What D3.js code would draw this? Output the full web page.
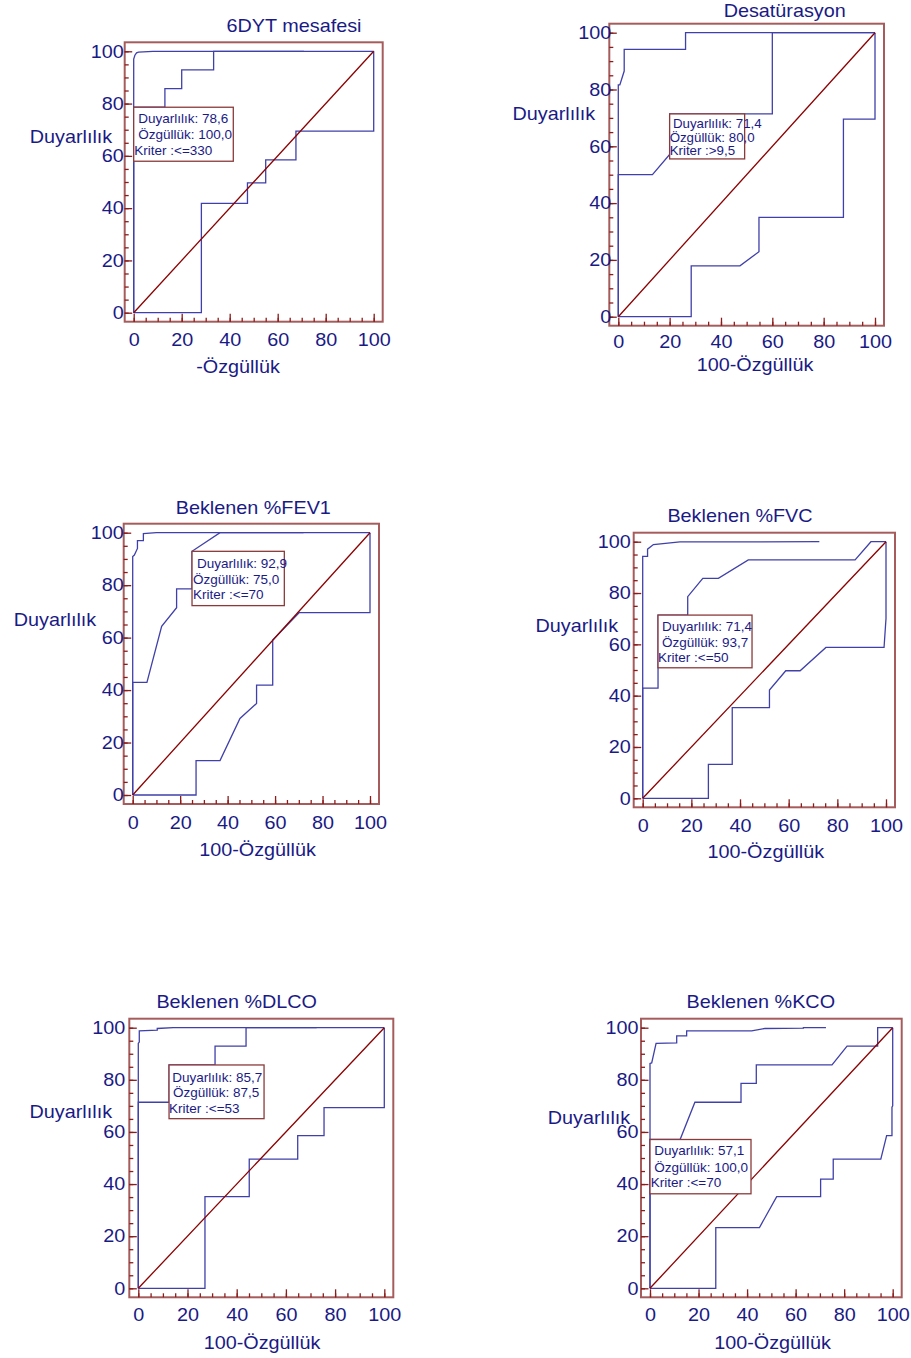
<!DOCTYPE html>
<html>
<head>
<meta charset="utf-8">
<script src="https://cdn.jsdelivr.net/npm/d3@7"></script>
<style>
  body { margin: 0; background: #fff; }
  svg text { font-family: "Liberation Sans", Arial, sans-serif; }
</style>
</head>
<body>
<svg id="chart" width="911" height="1358"></svg>
<script>
const titles = ["6DYT mesafesi", "Desatürasyon", "Beklenen %FEV1", "Beklenen %FVC", "Beklenen %DLCO", "Beklenen %KCO"];
const xTitles = ["-Özgüllük", "100-Özgüllük", "100-Özgüllük", "100-Özgüllük", "100-Özgüllük", "100-Özgüllük"];
const yTitle = "Duyarlılık";
const sensitivity = [78.6, 71.4, 92.9, 71.4, 85.7, 57.1];
const specificity = [100.0, 80.0, 75.0, 93.7, 87.5, 100.0];
const criteria = ["<=330", ">9,5", "<=70", "<=50", "<=53", "<=70"];
const majorTicks = [0, 20, 40, 60, 80, 100];

// [100-Özgüllük, Duyarlılık] pairs: upper band, ROC curve, lower band
const dytUpper = [[0,0],[0,97],[0.5,98.5],[1.2,99.4],[2,99.7],[8,100],[71,100]];
const dytRoc = [[0,0],[0,78.6],[13,78.6],[13,85.7],[20,85.7],[20,92.9],[33.3,92.9],[33.3,100],[100,100]];
const dytLower = [[0,0],[28.2,0],[28.2,41.8],[47.4,41.8],[47.4,49.7],[55,49.7],[55,58.5],[67.6,58.5],[67.6,69.5],[100,69.5],[100,100]];

const desUpper = [[0,0],[0,81.6],[0.6,81.6],[2.3,86.5],[2.3,94.1],[26.2,94.1],[26.2,100],[100,100]];
const desRoc = [[0,0],[0,50],[13.3,50],[20,57.1],[20,71.4],[60,71.4],[60,100],[100,100]];
const desLower = [[0,0],[28.4,0],[28.4,17.9],[47.4,17.9],[54.8,22.9],[54.8,35],[87.7,35],[87.7,69.6],[100,69.6],[100,100]];

const fevUpper = [[0,0],[0,90.9],[0.7,91.5],[2,94],[2,97],[4.5,97],[4.5,99.7],[10,100],[72,100]];
const fevRoc = [[0,0],[0,42.9],[6,42.9],[12.2,64.3],[18.5,71.4],[18.5,78.6],[25,78.6],[25,92.9],[36.8,100],[100,100]];
const fevLower = [[0,0],[26.7,0],[26.7,13.1],[36.8,13.1],[45.2,29.2],[52.2,34.9],[52.2,41.9],[59,41.9],[59,59.1],[70.1,69.5],[100,69.5],[100,100]];

const fvcUpper = [[0,0],[0,94.3],[2,94.3],[2,97.1],[4.4,98.9],[15.3,99.9],[72.6,100]];
const fvcRoc = [[0,0],[0,42.9],[6.3,42.9],[6.3,71.4],[18.5,71.4],[18.5,78.6],[24.7,85.7],[31.1,85.7],[43.4,92.9],[87.3,92.9],[93.8,100],[100,100]];
const fvcLower = [[0,0],[27,0],[27,13.2],[36.8,13.2],[36.8,35.3],[52.1,35.3],[52.1,42.2],[58.8,49.7],[64.7,49.7],[75.3,58.8],[99.2,58.8],[100,70.1],[100,100]];

const dlcoUpper = [[0,0],[0,94],[0.4,94.5],[0.4,98.8],[7.7,99.1],[7.7,99.7],[14.2,100],[72.5,100]];
const dlcoRoc = [[0,0],[0,71.4],[12.5,71.4],[12.5,85.7],[31.2,85.7],[31.2,92.9],[43.8,92.9],[43.8,100],[100,100]];
const dlcoLower = [[0,0],[27.1,0],[27.1,35.2],[45.1,35.2],[45.1,49.6],[64.8,49.6],[64.8,58.6],[75.5,58.6],[75.5,69.3],[100,69.3],[100,100]];

const kcoUpper = [[0,0],[0,86.3],[0.7,86.5],[2.5,94],[11,94.2],[11,96.9],[15.1,96.9],[15.1,98.8],[41.9,98.8],[47.4,99.7],[63.2,99.8],[63.2,100],[72.5,100]];
const kcoRoc = [[0,0],[0,57.1],[12.4,57.1],[18.5,71.4],[37.5,71.4],[37.5,78.6],[43.8,78.6],[43.8,85.7],[75,85.7],[81.2,92.9],[93.8,92.9],[93.8,100],[100,100]];
const kcoLower = [[0,0],[27.1,0],[27.1,23.3],[45.1,23.3],[52.2,35.2],[70.3,35.2],[70.3,41.9],[75.5,41.9],[75.5,49.6],[95.1,49.6],[97.5,58.6],[99.7,58.6],[99.7,69.5],[100,70],[100,100]];

const curves = [
  [dytUpper, dytRoc, dytLower],
  [desUpper, desRoc, desLower],
  [fevUpper, fevRoc, fevLower],
  [fvcUpper, fvcRoc, fvcLower],
  [dlcoUpper, dlcoRoc, dlcoLower],
  [kcoUpper, kcoRoc, kcoLower]
];

// page layout of each panel (pixels)
const panels = [
  { x: [133.7, 373.7], y: [312.7, 51.3], title: [294, 25.5], yT: [71, 137], xT: [238, 367], xLab: 18.5, yLab: 1,
    box: { w: 99.6, h: 54, rows: [16, 31.7, 47.4], indent: [4.6, 4.6, 0.6] } },
  { x: [618.3, 875], y: [316.7, 32.7], title: [784.7, 11], yT: [553.8, 114], xT: [755, 365], xLab: 15.7, yLab: -2,
    box: { w: 75, h: 45, rows: [14.3, 27.7, 41], indent: [3.3, 0, 0] } },
  { x: [132.7, 370], y: [795, 532.7], title: [253.3, 507.5], yT: [55, 620], xT: [257.5, 850], xLab: 19, yLab: 0,
    box: { w: 92.3, h: 54.3, rows: [16.7, 32.7, 47.7], indent: [5, 1, 1] } },
  { x: [642.7, 886], y: [798.3, 541.7], title: [740, 515.8], yT: [576.8, 626], xT: [765.8, 851.7], xLab: 18.3, yLab: 3,
    box: { w: 94, h: 52.7, rows: [16, 32, 47], indent: [4, 4, 0] } },
  { x: [138.3, 384.3], y: [1288.3, 1027.7], title: [236.7, 1002], yT: [70.8, 1111.7], xT: [262, 1343], xLab: 17.7, yLab: 4,
    box: { w: 95, h: 53.7, rows: [16.7, 32, 48], indent: [3.3, 4, 0] } },
  { x: [650, 892.7], y: [1288.3, 1027.7], title: [760.8, 1002], yT: [589, 1118.3], xT: [772.5, 1343], xLab: 17.7, yLab: 2.5,
    box: { w: 101, h: 54.3, rows: [16, 32.3, 47.7], indent: [4.3, 4.3, 0.7] } }
];

const navy = "#1a1a86", blue = "#4040aa", frameCol = "#a65c5c", tickCol = "#8b1c1c", diagCol = "#8b0000";
const pad = 9, stretch = 1.1;
const dec = v => d3.format(".1f")(v).replace(".", ",");

const svg = d3.select("#chart");

// big labels in the picture are a little wider than the font
function wideText(g, x, y, str) {
  g.append("g")
    .attr("transform", `translate(${x},${y}) scale(${stretch},1)`)
    .append("text")
    .attr("text-anchor", "middle")
    .attr("dominant-baseline", "central")
    .attr("font-size", 18)
    .attr("fill", navy)
    .text(str);
}

panels.forEach((p, i) => {
  const x = d3.scaleLinear().domain([0, 100]).range(p.x);
  const y = d3.scaleLinear().domain([0, 100]).range(p.y);
  const g = svg.append("g");
  const fl = p.x[0] - pad, fr = p.x[1] + pad, ft = p.y[1] - pad, fb = p.y[0] + pad;

  // frame
  g.append("rect")
    .attr("x", fl).attr("y", ft)
    .attr("width", fr - fl).attr("height", fb - ft)
    .attr("fill", "none")
    .attr("stroke", frameCol)
    .attr("stroke-width", 2);

  // minor ticks every 5, pointing inward
  const minor = d3.range(0, 101, 5);
  const xMinor = g.append("g").attr("transform", `translate(0,${fb})`)
    .call(d3.axisBottom(x).tickValues(minor).tickSizeInner(-4).tickSizeOuter(0).tickFormat(""));
  const yMinor = g.append("g").attr("transform", `translate(${fl},0)`)
    .call(d3.axisLeft(y).tickValues(minor).tickSizeInner(-4).tickSizeOuter(0).tickFormat(""));

  // major ticks with labels
  const xAxis = g.append("g").attr("transform", `translate(0,${fb})`)
    .call(d3.axisBottom(x).tickValues(majorTicks).tickSizeInner(-8).tickSizeOuter(0).tickPadding(0));
  const yAxis = g.append("g").attr("transform", `translate(${fl},0)`)
    .call(d3.axisLeft(y).tickValues(majorTicks).tickSizeInner(-7.5).tickSizeOuter(0).tickPadding(p.yLab));

  [xMinor, yMinor, xAxis, yAxis].forEach(a => {
    a.select(".domain").remove();
    a.selectAll("line").attr("stroke", tickCol).attr("stroke-width", 1.3);
  });
  xAxis.selectAll("text")
    .attr("y", p.xLab).attr("dy", "0.35em")
    .attr("transform", `scale(${stretch},1)`)
    .attr("font-size", 18).attr("fill", navy)
    .attr("font-family", "Liberation Sans, Arial, sans-serif");
  yAxis.selectAll("text")
    .attr("x", -p.yLab / stretch)
    .attr("transform", `scale(${stretch},1)`)
    .attr("font-size", 18).attr("fill", navy)
    .attr("font-family", "Liberation Sans, Arial, sans-serif");

  // ROC curve and its confidence bands
  const line = d3.line().x(d => x(d[0])).y(d => y(d[1]));
  g.selectAll(".curve")
    .data(curves[i])
    .enter()
    .append("path")
    .attr("class", "curve")
    .attr("d", line)
    .attr("fill", "none")
    .attr("stroke", blue)
    .attr("stroke-width", 1.3);

  // reference diagonal
  g.append("line")
    .attr("x1", x(0)).attr("y1", y(0))
    .attr("x2", x(100)).attr("y2", y(100))
    .attr("stroke", diagCol)
    .attr("stroke-width", 1.3);

  // criterion box at the optimal point
  const bx = x(100 - specificity[i]), by = y(sensitivity[i]);
  g.append("rect")
    .attr("x", bx).attr("y", by)
    .attr("width", p.box.w).attr("height", p.box.h)
    .attr("fill", "#fff")
    .attr("stroke", "#8b3a3a")
    .attr("stroke-width", 1.3);
  const rows = ["Duyarlılık: " + dec(sensitivity[i]), "Özgüllük: " + dec(specificity[i]), "Kriter :" + criteria[i]];
  g.selectAll(".boxText")
    .data(rows)
    .enter()
    .append("text")
    .attr("class", "boxText")
    .attr("x", (d, k) => bx + p.box.indent[k])
    .attr("y", (d, k) => by + p.box.rows[k])
    .attr("font-size", i === 1 ? 13.3 : 13.5)
    .attr("fill", navy)
    .text(d => d);

  // titles
  wideText(g, p.title[0], p.title[1], titles[i]);
  wideText(g, p.yT[0], p.yT[1], yTitle);
  wideText(g, p.xT[0], p.xT[1], xTitles[i]);
});
</script>
</body>
</html>
